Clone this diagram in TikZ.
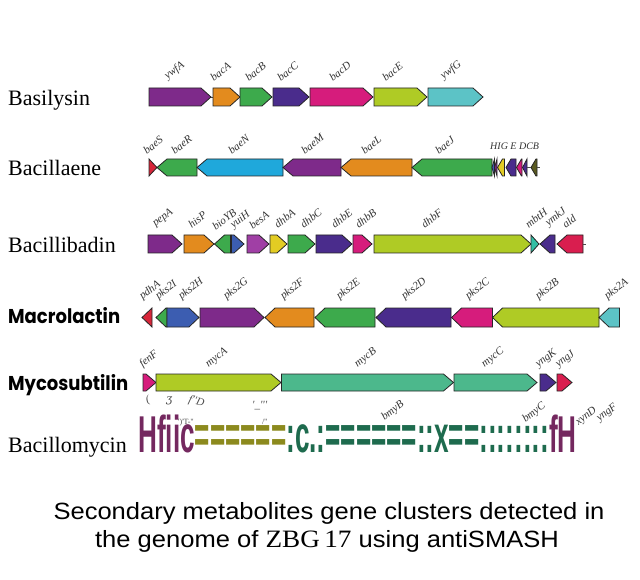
\documentclass[tikz,border=0pt]{standalone}
\usepackage{fontspec}
\usepackage{graphicx}
\setmainfont{Liberation Serif}
\newfontfamily\capfont{Liberation Sans}
\newfontfamily\boldsans{Poppins}
\newfontfamily\djv{DejaVu Serif}
\definecolor{gPurple}{HTML}{7E2A8A}
\definecolor{gOrange}{HTML}{E38B1E}
\definecolor{gGreen}{HTML}{3DAA4C}
\definecolor{gIndigo}{HTML}{4A2C8C}
\definecolor{gMagenta}{HTML}{D61C7C}
\definecolor{gLime}{HTML}{AFCB25}
\definecolor{gCyan}{HTML}{5CC3C6}
\definecolor{gSky}{HTML}{1FA8DB}
\definecolor{gRed}{HTML}{D7263A}
\definecolor{gCrimson}{HTML}{D91E4F}
\definecolor{gBlue}{HTML}{3C5DB1}
\definecolor{gYellow}{HTML}{E3CC23}
\definecolor{gSea}{HTML}{4CB88C}
\definecolor{gTeal}{HTML}{33BFA5}
\definecolor{gViolet}{HTML}{A03FA5}
\definecolor{gOliveDark}{HTML}{5A5A20}
\definecolor{bmPurple}{HTML}{74285F}
\definecolor{bmOlive}{HTML}{8C8A1E}
\definecolor{bmGreen}{HTML}{1E6B4E}
\newcommand{\headlen}{10}
\newcommand{\gtop}{88}
\newcommand{\gbot}{106}
\newcommand{\gR}[3]{\filldraw[gene,fill=#3] (#1,\gtop) -- ({max(#1,#2-\headlen)},\gtop) -- (#2,{(\gtop+\gbot)/2}) -- ({max(#1,#2-\headlen)},\gbot) -- (#1,\gbot) -- cycle;}
\newcommand{\gL}[3]{\filldraw[gene,fill=#3] (#2,\gtop) -- ({min(#2,#1+\headlen)},\gtop) -- (#1,{(\gtop+\gbot)/2}) -- ({min(#2,#1+\headlen)},\gbot) -- (#2,\gbot) -- cycle;}
\newcommand{\setrow}[2]{\renewcommand{\gtop}{#1}\renewcommand{\gbot}{#2}}
\begin{document}
\begin{tikzpicture}[x=1pt,y=-1pt,
  gene/.style={draw=black!85,line width=0.8pt,line join=miter},
  glab/.style={anchor=south west,inner sep=0pt,rotate=38,font=\fontsize{11}{11}\selectfont\itshape,text=black!80},
  rowlab/.style={anchor=base west,inner sep=0pt,font=\fontsize{22}{22}\selectfont},
  boldlab/.style={anchor=base west,inner sep=0pt,font=\boldsans\bfseries\fontsize{20}{20}\selectfont},
  junk/.style={anchor=base west,inner sep=0pt,font=\fontsize{11}{11}\selectfont\itshape,text=black!70},
  captxt/.style={anchor=base,inner sep=0pt,font=\capfont\fontsize{23.5}{23.5}\selectfont}]
\useasboundingbox[fill=white] (0,0) rectangle (640,580);

% ---------- Basilysin ----------
\node[rowlab] (nBas) at (8,106) {Basilysin};
\setrow{88}{106}
\draw[black!70] (211,97) -- (213,97);
\gR{149}{211}{gPurple}
\gR{213}{240}{gOrange}
\gR{240}{272}{gGreen}
\gR{273}{309}{gIndigo}
\gR{310}{373}{gMagenta}
\gR{374}{427}{gLime}
\gR{428}{483}{gCyan}
\node[glab] (l11) at (169,82) {ywfA};
\node[glab] (l12) at (214,82) {bacA};
\node[glab] (l13) at (249,82) {bacB};
\node[glab] (l14) at (281,82) {bacC};
\node[glab] (l15) at (333,82) {bacD};
\node[glab] (l16) at (386,82) {bacE};
\node[glab] (l17) at (445,82) {ywfG};

% ---------- Bacillaene ----------
\node[rowlab] (nBae) at (8,176) {Bacillaene};
\setrow{159}{176}
\gR{149}{157}{gRed}
\gL{157}{197}{gGreen}
\gL{197}{283}{gSky}
\gL{283}{341}{gPurple}
\gL{341}{412}{gOrange}
\gL{412}{492}{gGreen}
\renewcommand{\headlen}{5}
\gL{492}{494.5}{gBlue}
\gL{494.5}{497}{gPurple}
\gL{497.5}{504.5}{gYellow}
\gL{506}{516}{gIndigo}
\gL{516.5}{522}{gMagenta}
\gL{522.5}{527}{gIndigo}
\gL{531}{537}{gOliveDark}
\draw[black!70] (527,167.5) -- (531,167.5) (537,167.5) -- (540,167.5);
\renewcommand{\headlen}{10}
\node[glab] (l21) at (147,155) {baeS};
\node[glab] (l22) at (175,155) {baeR};
\node[glab] (l23) at (232,155) {baeN};
\node[glab] (l24) at (305,155) {baeM};
\node[glab] (l25) at (365,155) {baeL};
\node[glab] (l26) at (439,155) {baeJ};
\node[anchor=base west,inner sep=0pt,font=\fontsize{10}{10}\selectfont\itshape,text=black!80] (l27) at (490,150) {HIG E DCB};

% ---------- Bacillibadin ----------
\node[rowlab] (nBab) at (8,253) {Bacillibadin};
\setrow{235}{253}
\gR{148}{182}{gPurple}
\gR{184}{214}{gOrange}
\gL{214.5}{231}{gGreen}
\gR{231}{244}{gBlue}
\draw[line width=1.4pt,black!85] (231,235) -- (231,253);
\gR{247}{269}{gViolet}
\gR{270}{287}{gYellow}
\gR{288}{315}{gGreen}
\gR{316}{352}{gIndigo}
\gR{353}{372}{gMagenta}
\gR{374}{531}{gLime}
\gR{531}{539}{gTeal}
\gL{540}{555}{gIndigo}
\gL{557}{583}{gCrimson}
\draw[black!70] (583,244) -- (586,244);
\node[glab] (l31) at (157,229) {pepA};
\node[glab] (l32) at (192,229) {hisP};
\node[glab] (l33) at (216,231) {bioYB};
\node[glab] (l34) at (235,231) {yuiH};
\node[glab] (l35) at (253,230) {besA};
\node[glab] (l36) at (278,229) {dhbA};
\node[glab] (l37) at (304,229) {dhbC};
\node[glab] (l38) at (335,229) {dhbE};
\node[glab] (l39) at (359,229) {dhbB};
\node[glab] (l3a) at (425,229) {dhbF};
\node[glab] (l3b) at (529,229) {mbtH};
\node[glab] (l3c) at (550,229) {ymkJ};
\node[glab] (l3d) at (566,229) {ald};

% ---------- Macrolactin ----------
\node[boldlab] (nMac) at (8,323) {\scalebox{0.9}[1]{Macrolactin}};
\setrow{308}{327}
\gL{142}{152}{gRed}
\gL{156}{167}{gGreen}
\gR{167}{199}{gBlue}
\gR{200}{264}{gPurple}
\gL{265}{314}{gOrange}
\gL{315}{375}{gGreen}
\gL{376}{451}{gIndigo}
\gL{451.5}{492.5}{gMagenta}
\gL{492.5}{599}{gLime}
\gL{599}{619.5}{gCyan}
\node[glab] (l41) at (144,302) {pdhA};
\node[glab] (l42) at (160,302) {pks2I};
\node[glab] (l43) at (183,302) {pks2H};
\node[glab] (l44) at (228,302) {pks2G};
\node[glab] (l45) at (285,302) {pks2F};
\node[glab] (l46) at (341,302) {pks2E};
\node[glab] (l47) at (406,302) {pks2D};
\node[glab] (l48) at (470,302) {pks2C};
\node[glab] (l49) at (540,302) {pks2B};
\node[glab] (l4a) at (609,302) {pks2A};

% ---------- Mycosubtilin ----------
\node[boldlab] (nMyc) at (8,390) {\scalebox{0.9}[1]{Mycosubtilin}};
\setrow{374}{391}
\gR{143}{156}{gMagenta}
\gR{156}{281}{gLime}
\gR{281.5}{453.5}{gSea}
\gR{454}{537}{gSea}
\gR{540}{556}{gIndigo}
\gR{557}{572}{gCrimson}
\node[glab] (l51) at (144,370) {fenF};
\node[glab] (l52) at (210,370) {mycA};
\node[glab] (l53) at (359,370) {mycB};
\node[glab] (l54) at (486,370) {mycC};
\node[glab] (l55) at (540,370) {yngK};
\node[glab] (l56) at (560,370) {yngJ};

% ---------- Bacillomycin ----------
\node[rowlab] (nBmy) at (8,452) {Bacillomycin};
\node[anchor=base west,inner sep=0pt,font=\capfont\bfseries\fontsize{28}{28}\selectfont] (bmy) at (138,452)
  {\scalebox{0.933}[1.85]{\textcolor{bmPurple}{Hfiic}\textcolor{bmOlive}{======}\textcolor{bmGreen}{:c.:======::x==::::::::}\textcolor{bmPurple}{fH}}};
\node[junk,rotate=20] (j1) at (147,404) {(};
\node[junk] (j2) at (166,402) {\djv ʒ};
\node[junk,rotate=-15] (j3) at (188,402) {f\textquotesingle\textquotesingle D};
\node[junk,font=\fontsize{8}{8}\selectfont] (j4) at (178,424) {\textquotesingle)\textquotesingle T-\textquotesingle\textquotesingle};
\node[junk] (j5) at (252,408) {\textquotesingle\_\textquotesingle\textquotesingle\textquotesingle};
\node[junk,font=\fontsize{8}{8}\selectfont] (j6) at (262,424) {/\textquotesingle\textquotesingle};
\node[glab] (l61) at (386,423) {bmyB};
\node[glab] (l62) at (527,425) {bmyC};
\node[glab] (l63) at (580,428) {xynD};
\node[glab] (l64) at (601,424) {yngF};

% ---------- Caption ----------
\node[captxt] (c1) at (329,519) {\scalebox{1.087}[1]{Secondary metabolites gene clusters detected in}};
\node[captxt] (c2) at (327,547) {\scalebox{1.087}[1]{the genome of {\rmfamily\fontsize{25}{25}\selectfont ZBG\,17} using antiSMASH}};
\end{tikzpicture}
\end{document}
